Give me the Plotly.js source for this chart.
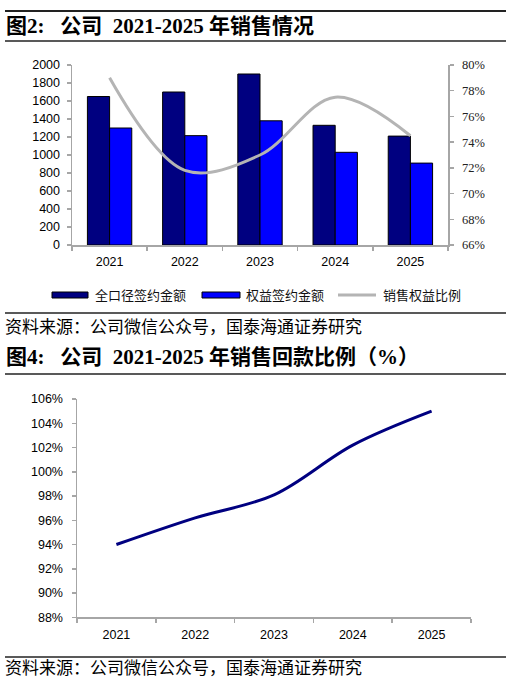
<!DOCTYPE html>
<html>
<head>
<meta charset="utf-8">
<script src="https://cdn.plot.ly/plotly-3.0.1.min.js"></script>
<style>
html,body{margin:0;padding:0;background:#fff;}
#chart{width:513px;height:682px;}
</style>
</head>
<body>
<div id="chart"></div>
<script>
// ---- data ----
const years = ['2021', '2022', '2023', '2024', '2025'];
const totalSigned = [1650, 1700, 1900, 1330, 1210];     // 全口径签约金额
const equitySigned = [1300, 1215, 1380, 1030, 910];     // 权益签约金额
const equityRatio = [0.790, 0.718, 0.730, 0.775, 0.745]; // 销售权益比例
const collectionRatio = [0.940, 0.962, 0.981, 1.022, 1.050]; // 销售回款比例

const seriesNames = ['全口径签约金额', '权益签约金额', '销售权益比例'];
const title1 = '图2:\u00A0\u00A0\u00A0公司\u00A0\u00A02021-2025\u00A0年销售情况';
const title2 = '图4:\u00A0\u00A0\u00A0公司\u00A0\u00A02021-2025\u00A0年销售回款比例（%）';
const sourceText = '资料来源：公司微信公众号，国泰海通证券研究';

// ---- helpers (pixel -> paper) ----
const W = 513, H = 682;
const px = x => x / W;
const py = y => 1 - y / H;

const axisGray = '#a6a6a6';
const sansFont = 'Liberation Sans, Arial, sans-serif';
const cjkSerif = 'Liberation Serif, Noto Sans CJK SC, serif';

const traces = [
  {type: 'bar', x: years, y: totalSigned, name: seriesNames[0], xaxis: 'x', yaxis: 'y',
   marker: {color: '#000080', line: {color: '#000000', width: 1}}, showlegend: false},
  {type: 'bar', x: years, y: equitySigned, name: seriesNames[1], xaxis: 'x', yaxis: 'y',
   marker: {color: '#0000ff', line: {color: '#000000', width: 1}}, showlegend: false},
  {type: 'scatter', mode: 'lines', x: years, y: equityRatio, name: seriesNames[2], xaxis: 'x', yaxis: 'y2',
   line: {color: '#b4b4b4', width: 3, shape: 'spline', smoothing: 1}, showlegend: false},
  {type: 'scatter', mode: 'lines', x: years, y: collectionRatio, name: '销售回款比例', xaxis: 'x2', yaxis: 'y3',
   line: {color: '#000080', width: 3, shape: 'spline', smoothing: 1}, showlegend: false}
];

const hline = (y, w) => ({type: 'line', xref: 'paper', yref: 'paper', x0: px(5), x1: px(506),
  y0: py(y), y1: py(y), line: {color: '#222', width: w}});

const shapes = [
  hline(11, 2), hline(41, 1.5), hline(313, 1.5), hline(374, 1.5), hline(657, 1.5),
  // legend symbols
  {type: 'rect', xref: 'paper', yref: 'paper', x0: px(52), x1: px(88), y0: py(298), y1: py(292),
   fillcolor: '#000080', line: {color: '#000', width: 1}},
  {type: 'rect', xref: 'paper', yref: 'paper', x0: px(202), x1: px(240), y0: py(298), y1: py(292),
   fillcolor: '#0000ff', line: {color: '#000', width: 1}},
  {type: 'line', xref: 'paper', yref: 'paper', x0: px(338), x1: px(376), y0: py(295), y1: py(295),
   line: {color: '#b4b4b4', width: 3}}
];

const ann = (text, x, y, size, bold, color) => ({text: bold ? '<b>' + text + '</b>' : text,
  xref: 'paper', yref: 'paper', x: px(x), y: py(y), xanchor: 'left', yanchor: 'middle',
  showarrow: false, font: {family: cjkSerif, size: size, color: color || '#000'}});

const annotations = [
  ann(title1, 4, 26, 21, true),
  ann(seriesNames[0], 93, 295, 13, false, '#111'),
  ann(seriesNames[1], 244, 295, 13, false, '#111'),
  ann(seriesNames[2], 381, 295, 13, false, '#111'),
  ann(sourceText, 3, 327, 17, false),
  ann(title2, 4, 357, 21, true),
  ann(sourceText, 3, 668, 17, false)
];

const layout = {
  width: W, height: H,
  margin: {l: 0, r: 0, t: 0, b: 0},
  paper_bgcolor: '#fff', plot_bgcolor: '#fff',
  barmode: 'group', bargap: 0.41, bargroupgap: 0,
  showlegend: false,
  xaxis: {domain: [px(72), px(448)], anchor: 'y', type: 'category', range: [-0.5, 4.5],
    showline: true, linecolor: axisGray, linewidth: 1.5, ticks: 'outside', tickson: 'boundaries',
    ticklen: 4, tickcolor: axisGray, tickwidth: 1.5, showgrid: false, zeroline: false,
    ticklabelstandoff: 4,
    tickfont: {family: sansFont, size: 12.5, color: '#000'}},
  yaxis: {domain: [py(245), py(65)], anchor: 'x', range: [0, 2000], dtick: 200,
    showline: true, linecolor: axisGray, linewidth: 1.5, ticks: 'outside', ticklen: 4,
    tickcolor: axisGray, tickwidth: 1.5, showgrid: false, zeroline: false, ticklabelstandoff: 4,
    tickfont: {family: sansFont, size: 12.5, color: '#000'}},
  yaxis2: {overlaying: 'y', side: 'right', anchor: 'x', range: [0.66, 0.80], dtick: 0.02,
    tickformat: '.0%', showline: true, linecolor: axisGray, linewidth: 1.5, ticks: 'outside',
    ticklen: 4, tickcolor: axisGray, tickwidth: 1.5, showgrid: false, zeroline: false,
    ticklabelstandoff: 6,
    tickfont: {family: 'Liberation Serif, serif', size: 12.5, color: '#222'}},
  xaxis2: {domain: [px(77), px(471)], anchor: 'y3', type: 'category', range: [-0.5, 4.5],
    showline: true, linecolor: axisGray, linewidth: 1.5, ticks: 'outside', tickson: 'boundaries',
    ticklen: 4, tickcolor: axisGray, tickwidth: 1.5, showgrid: false, zeroline: false,
    ticklabelstandoff: 5,
    tickfont: {family: sansFont, size: 12.5, color: '#000'}},
  yaxis3: {domain: [py(617.3), py(399)], anchor: 'x2', range: [0.88, 1.06], dtick: 0.02,
    tickformat: '.0%', showline: true, linecolor: axisGray, linewidth: 1.5, ticks: 'outside',
    ticklen: 4, tickcolor: axisGray, tickwidth: 1.5, showgrid: false, zeroline: false,
    ticklabelstandoff: 6,
    tickfont: {family: sansFont, size: 12.5, color: '#000'}},
  shapes: shapes,
  annotations: annotations
};

Plotly.newPlot('chart', traces, layout, {staticPlot: true, displayModeBar: false});
</script>
</body>
</html>
